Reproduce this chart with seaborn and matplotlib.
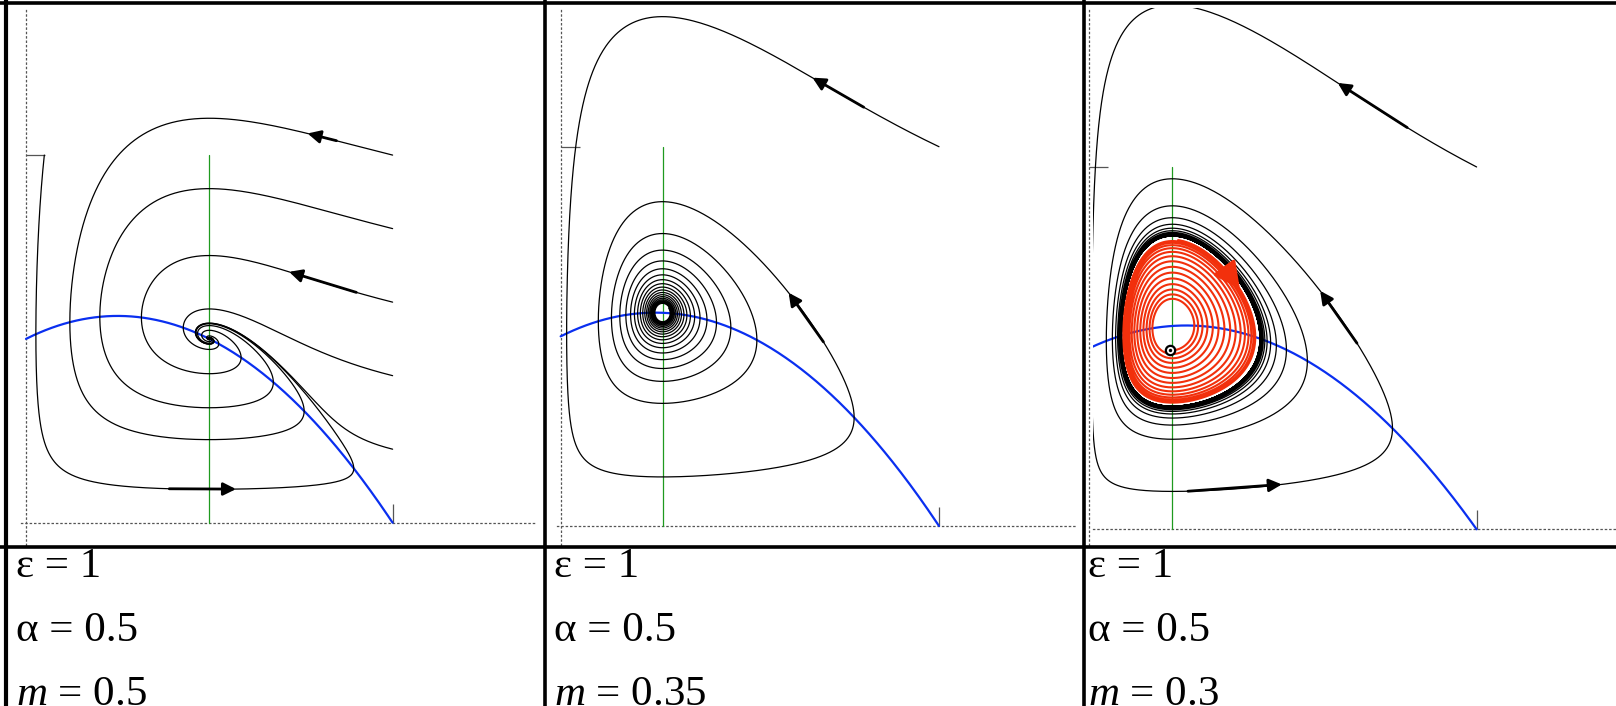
import numpy as np
import matplotlib
matplotlib.use("Agg")
import matplotlib.pyplot as plt
from matplotlib.lines import Line2D
import seaborn as sns

# model parameters (one value of m per panel)
EPS = 1.0
ALPHA = 0.5
M_VALUES = [0.5, 0.35, 0.3]

# starting states (x0, y0) and integration times for the black orbits
STARTS = [
    [(1.0, 1.0), (1.0, 0.8), (1.0, 0.6), (1.0, 0.4), (1.0, 0.2), (0.05, 1.0)],
    [(1.0, 1.0)],
    [(1.0, 1.0)],
]
T_END = [
    [90, 90, 90, 90, 90, 90],
    [300],
    [320],
]
# red orbit growing out of the unstable focus in the last panel
RED_START = (0.207, 0.495)
RED_T = 230

# direction arrows: (x near, y near, length along orbit)
ARROWS = [
    [(0.848, 1.049, 0.08), (0.907, 0.642, 0.19), (0.393, 0.115, 0.18)],
    [(0.803, 1.115, 0.15), (0.702, 0.490, 0.157)],
    [(0.828, 1.110, 0.208), (0.703, 0.522, 0.172), (0.255, 0.110, 0.241)],
]
RED_ARROW = (0.365, 0.71, 0.055)

# parameter captions
CAPTION_EPS = ["ε = 1", "ε = 1", "ε = 1"]
CAPTION_ALPHA = ["α = 0.5", "α = 0.5", "α = 0.5"]
CAPTION_M = ["$m$ = 0.5", "$m$ = 0.35", "$m$ = 0.3"]

W, H = 1616, 706
# axes boxes in pixels (left, right, top, bottom) and the data window shown in each
BOXES = [(21, 536, 8, 545), (557, 1075, 8, 545), (1093, 1616, 8, 545)]
XLIMS = [(-0.0136, 1.3911), (-0.0097, 1.3595), (0.0093, 1.3600)]
YLIMS = [(-0.0606, 1.4001), (-0.0501, 1.3657), (-0.0433, 1.4387)]
TEXT_X = [16, 554, 1088]

sns.set_theme(style="white")
plt.rcParams["mathtext.fontset"] = "custom"
plt.rcParams["mathtext.rm"] = "Liberation Serif"
plt.rcParams["mathtext.it"] = "Liberation Serif:italic"
plt.rcParams["text.color"] = "black"


def rhs(x, y, m):
    f = x * (1 - x) - x * y / (ALPHA + x)
    g = EPS * y * (x / (ALPHA + x) - m)
    return f, g


def integrate(x0, y0, t_end, m, dt=0.02):
    n = int(round(t_end / dt))
    out = np.empty((n + 1, 2))
    x, y = x0, y0
    out[0] = x, y
    for i in range(1, n + 1):
        k1x, k1y = rhs(x, y, m)
        k2x, k2y = rhs(x + 0.5 * dt * k1x, y + 0.5 * dt * k1y, m)
        k3x, k3y = rhs(x + 0.5 * dt * k2x, y + 0.5 * dt * k2y, m)
        k4x, k4y = rhs(x + dt * k3x, y + dt * k3y, m)
        x += dt / 6 * (k1x + 2 * k2x + 2 * k3x + k4x)
        y += dt / 6 * (k1y + 2 * k2y + 2 * k3y + k4y)
        out[i] = x, y
    return out


def add_arrow(ax, orbits, px, py, length, color, lw, scale, backward=False):
    best = None
    for orb in orbits:
        d = (orb[:, 0] - px) ** 2 + (orb[:, 1] - py) ** 2
        i = int(np.argmin(d))
        if best is None or d[i] < best[0]:
            best = (d[i], orb, i)
    _, orb, i = best
    seg = np.hypot(np.diff(orb[:, 0]), np.diff(orb[:, 1]))
    cum = np.concatenate([[0.0], np.cumsum(seg)])
    if backward:
        j = int(np.searchsorted(cum, cum[i] - length))
    else:
        j = min(int(np.searchsorted(cum, cum[i] + length)), len(orb) - 1)
    ax.annotate("", xy=tuple(orb[j]), xytext=tuple(orb[i]),
                arrowprops=dict(arrowstyle="-|>", color=color, lw=lw,
                                mutation_scale=scale, shrinkA=0, shrinkB=0),
                zorder=6)


fig = plt.figure(figsize=(W / 100, H / 100), dpi=100)
fig.patch.set_facecolor("white")

for p, m in enumerate(M_VALUES):
    l, r, t, b = BOXES[p]
    ax = fig.add_axes([l / W, 1 - b / H, (r - l) / W, (b - t) / H])
    ax.set_facecolor("white")
    ax.set_xlim(*XLIMS[p])
    ax.set_ylim(*YLIMS[p])

    for side in ("top", "right"):
        ax.spines[side].set_visible(False)
    for side in ("left", "bottom"):
        ax.spines[side].set_position(("data", 0))
        ax.spines[side].set_linestyle((0, (1, 2.5)))
        ax.spines[side].set_color("#555555")
        ax.spines[side].set_linewidth(0.9)
    ax.set_xticks([1])
    ax.set_yticks([1])
    ax.tick_params(direction="in", length=13.5, width=0.9, color="#555555",
                   labelbottom=False, labelleft=False, bottom=True, left=True)
    ax.grid(False)

    # nullclines
    xs = np.linspace(0, 1, 300)
    sns.lineplot(x=xs, y=(1 - xs) * (ALPHA + xs), color="#0a2ff0", lw=1.6,
                 ax=ax, zorder=4)
    x_star = m * ALPHA / (1 - m)
    sns.lineplot(x=[x_star, x_star], y=[0, 1], color="#1f9a1f", lw=0.9,
                 ax=ax, zorder=3, sort=False, estimator=None)

    orbits = []
    for (x0, y0), te in zip(STARTS[p], T_END[p]):
        orb = integrate(x0, y0, te, m)
        orbits.append(orb)
        sns.lineplot(x=orb[:, 0], y=orb[:, 1], sort=False, estimator=None,
                     color="black", lw=0.9, ax=ax, zorder=5)

    for (ax_x, ax_y, ln) in ARROWS[p]:
        add_arrow(ax, orbits, ax_x, ax_y, ln, "black", 2.0, 19)

    if p == 2:
        red = integrate(RED_START[0], RED_START[1], RED_T, m)
        sns.lineplot(x=red[:, 0], y=red[:, 1], sort=False, estimator=None,
                     color="#f2300c", lw=1.5, ax=ax, zorder=5)
        add_arrow(ax, [red], RED_ARROW[0], RED_ARROW[1], RED_ARROW[2],
                  "#f2300c", 2.5, 40, backward=True)
        sns.scatterplot(x=[RED_START[0]], y=[RED_START[1]], s=45,
                        facecolor="white", edgecolor="black", linewidth=1.6,
                        ax=ax, zorder=7)
        sns.scatterplot(x=[RED_START[0]], y=[RED_START[1]], s=6,
                        color="black", linewidth=0, ax=ax, zorder=8)

# parameter captions under each panel
for p in range(3):
    x0 = TEXT_X[p] / W
    fig.text(x0, 1 - 577 / H, CAPTION_EPS[p], fontsize=31, color="black",
             family="Liberation Serif", va="baseline", ha="left")
    fig.text(x0, 1 - 641 / H, CAPTION_ALPHA[p], fontsize=31, color="black",
             family="Liberation Serif", va="baseline", ha="left")
    fig.text(x0, 1 - 705 / H, CAPTION_M[p], fontsize=31, color="black",
             family="Liberation Serif", va="baseline", ha="left")


def rule(x1, y1, x2, y2, lw):
    fig.add_artist(Line2D([x1 / W, x2 / W], [1 - y1 / H, 1 - y2 / H],
                          transform=fig.transFigure, color="black", lw=lw,
                          solid_capstyle="butt", zorder=20))


# table frame
rule(0, 3.3, W, 3.3, 2.6)
rule(6.0, 0, 6.0, H, 3.0)
rule(545, 0, 545, H, 2.6)
rule(1084.3, 0, 1084.3, H, 2.6)
rule(0, 546.7, W, 546.7, 2.6)

fig.savefig("out.png", dpi=100, facecolor="white")
